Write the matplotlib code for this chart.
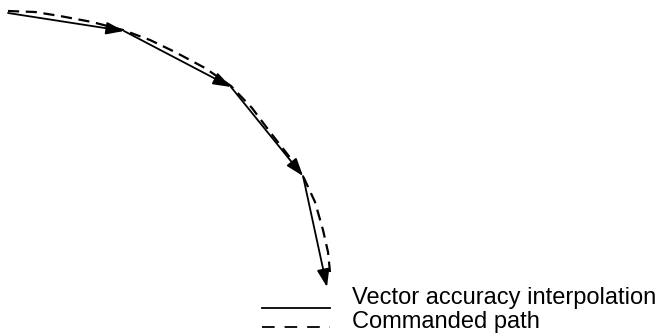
import matplotlib
matplotlib.use("Agg")
import matplotlib.pyplot as plt

# commanded path (dashed) in pixel units
path_x = [8, 35, 60, 92, 123, 150, 175, 205, 231, 252, 270, 288, 303, 315, 323, 328, 330]
path_y = [11, 12, 16, 22, 30, 40, 52, 68, 86, 108, 132, 155, 176, 202, 230, 252, 272]

# vector interpolation points (solid chords with arrows)
vec_x = [8, 124, 231, 303, 327]
vec_y = [13, 31, 87, 176, 287]

legend_labels = ["Vector accuracy interpolation", "Commanded path"]

fig = plt.figure(figsize=(6.61, 3.36), dpi=100)
ax = fig.add_axes([0, 0, 1, 1])
ax.set_xlim(0, 661)
ax.set_ylim(336, 0)
ax.axis("off")

ax.plot(path_x, path_y, color="black", lw=1.6, ls=(0, (5, 3)))

for i in range(len(vec_x) - 1):
    ax.annotate("", xy=(vec_x[i + 1], vec_y[i + 1]), xytext=(vec_x[i], vec_y[i]),
                arrowprops=dict(arrowstyle="-|>,head_length=1.2,head_width=0.42",
                                color="black", lw=1.3, shrinkA=0, shrinkB=0,
                                mutation_scale=9))

# legend drawn by hand
ax.plot([262, 330], [308, 308], color="black", lw=1.3)
ax.plot([262, 330], [327, 327], color="black", lw=1.3, ls=(0, (7, 5.5)))
ax.text(352, 304, legend_labels[0], fontsize=17, family="Liberation Sans", va="baseline")
ax.text(352, 328, legend_labels[1], fontsize=17, family="Liberation Sans", va="baseline")

fig.savefig("out.png", dpi=100)
